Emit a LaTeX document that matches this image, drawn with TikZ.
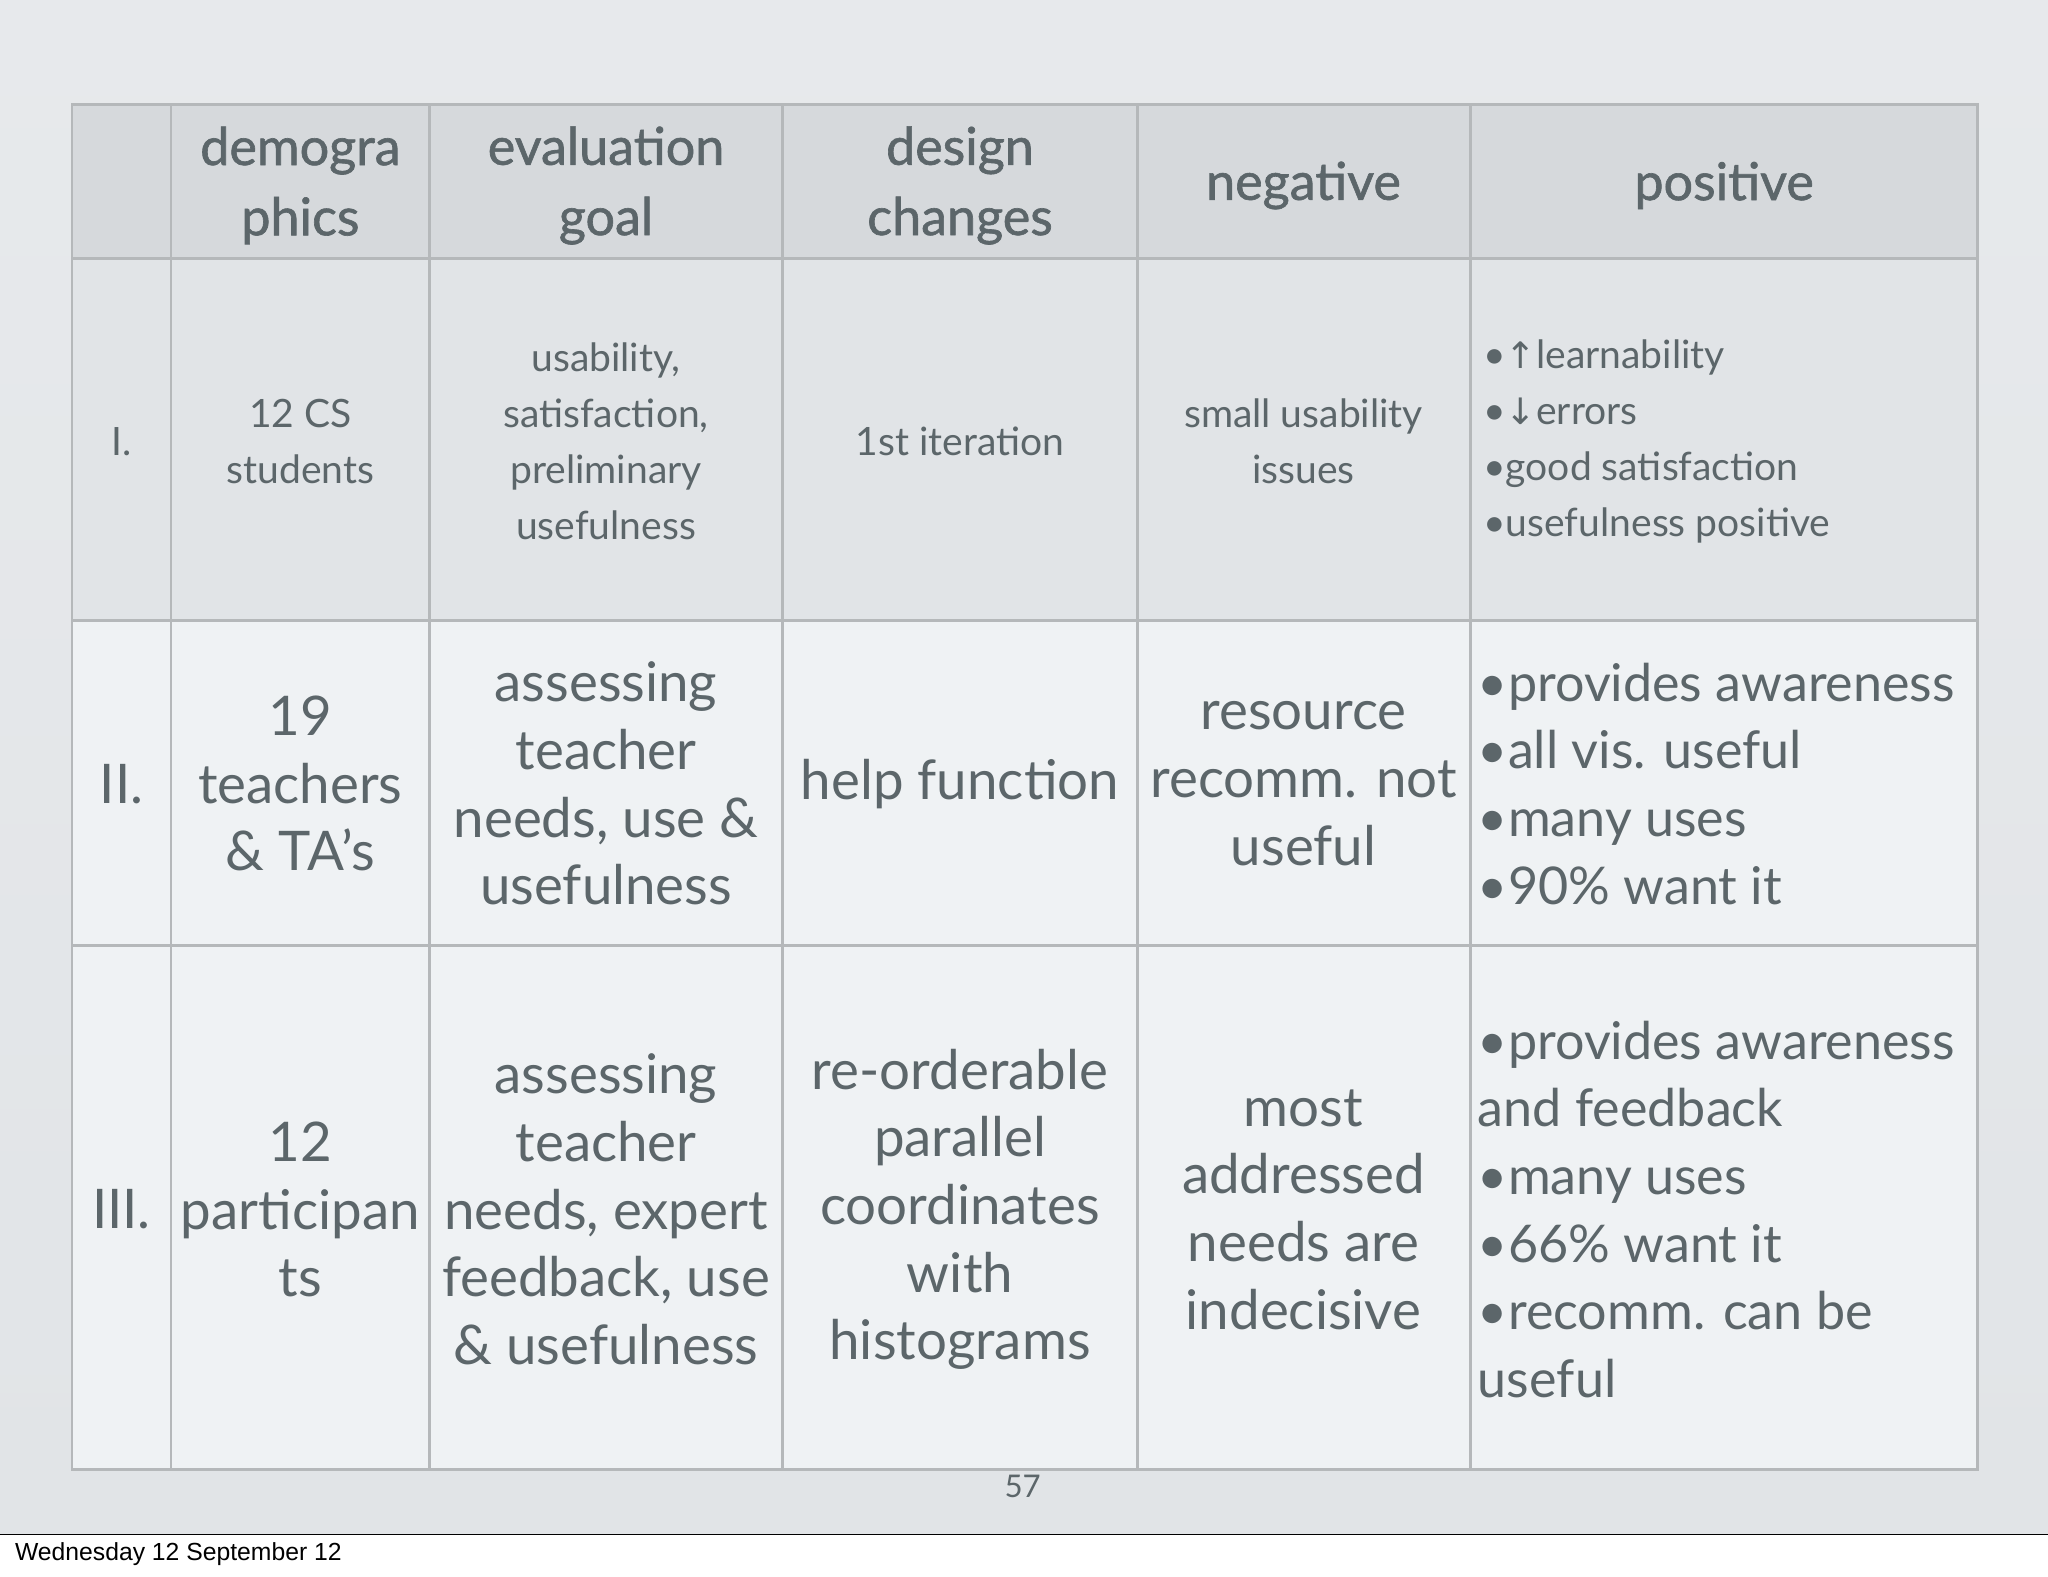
\documentclass[tikz,border=0pt]{standalone}
\usepackage{fontspec}
\setmainfont{Lato}
\newfontfamily\hdfont[FakeBold=1.2]{Lato}
\newfontfamily\arrowfont{DejaVu Sans}
\newfontfamily\footfont{Liberation Sans}
\definecolor{txt}{HTML}{5C666A}
\definecolor{hdr}{HTML}{D6D9DC}
\definecolor{rowone}{HTML}{E1E4E7}
\definecolor{rowtwo}{HTML}{EFF2F4}
\definecolor{gridc}{HTML}{B5B8BA}
\tikzset{
 hd/.style={text=txt,align=center,font=\hdfont\fontsize{40}{54}\selectfont},
 sm/.style={text=txt,align=center,font=\fontsize{30}{43}\selectfont},
 bg/.style={text=txt,align=center,font=\fontsize{42}{52}\selectfont},
 bgl/.style={text=txt,align=left,anchor=west,font=\fontsize{40}{52}\selectfont},
 sml/.style={text=txt,align=left,anchor=west,font=\fontsize{30}{43}\selectfont},
}
\begin{document}
\begin{tikzpicture}[x=1bp,y=-1bp]
\useasboundingbox (0,0) rectangle (1568,1207);
\fill[white] (0,0) rectangle (1568,1207);
\shade[top color=rowone!80!white, bottom color=rowone] (0,0) rectangle (1568,1175);
\draw[black,line width=1] (0,1175) -- (1568,1175);
\fill[hdr] (55,80) rectangle (1514,198);
\fill[rowone] (55,198) rectangle (1514,475);
\fill[rowtwo] (55,475) rectangle (1514,1125);
\draw[gridc,line width=2] (55,80) rectangle (1514,1125);
\foreach \x in {131,329,599,871,1126} \draw[gridc,line width=2] (\x,80) -- (\x,1125);
\foreach \y in {198,475,724} \draw[gridc,line width=2] (55,\y) -- (1514,\y);
% header
\node[hd] (h1) at (230,142) {demogra\\phics};
\node[hd] (h2) at (464,142) {evaluation\\goal};
\node[hd] (h3) at (735,142) {design\\changes};
\node[hd] (h4) at (998,142) {negative};
\node[hd] (h5) at (1320,142) {positive};
% row I
\node[sm] (r1a) at (93,338) {I.};
\node[sm] (r1b) at (230,338) {12 CS\\students};
\node[sm] (r1c) at (464,338) {usability,\\satisfaction,\\preliminary\\usefulness};
\node[sm] (r1d) at (735,338) {1st iteration};
\node[sm] (r1e) at (998,338) {small usability\\issues};
\node[sml] (r1f) at (1132,338) {•{\arrowfont\fontsize{28}{43}\selectfont↑}learnability\\•{\arrowfont\fontsize{28}{43}\selectfont↓}errors\\•good satisfaction\\•usefulness positive};
% row II
\node[bg] (r2a) at (93,600) {II.};
\node[bg] (r2b) at (230,600) {19\\teachers\\\& TA’s};
\node[bg] (r2c) at (464,600) {assessing\\teacher\\needs, use \&\\usefulness};
\node[bg] (r2d) at (735,600) {help function};
\node[bg] (r2e) at (998,600) {resource\\recomm. not\\useful};
\node[bgl] (r2f) at (1128,600) {•provides awareness\\•all vis. useful\\•many uses\\•90\% want it};
% row III
\node[bg] (r3a) at (93,926) {III.};
\node[bg] (r3b) at (230,926) {12\\participan\\ts};
\node[bg] (r3c) at (464,926) {assessing\\teacher\\needs, expert\\feedback, use\\\& usefulness};
\node[bg] (r3d) at (735,926) {re-orderable\\parallel\\coordinates\\with\\histograms};
\node[bg] (r3e) at (998,926) {most\\addressed\\needs are\\indecisive};
\node[bgl] (r3f) at (1128,926) {•provides awareness\\and feedback\\•many uses\\•66\% want it\\•recomm. can be\\useful};
\node[text=txt,font=\fontsize{24}{28}\selectfont] (pg) at (783,1138) {57};
\node[anchor=west,font=\footfont\fontsize{19}{22}\selectfont] (ft) at (8,1190) {Wednesday 12 September 12};
\end{tikzpicture}
\end{document}
